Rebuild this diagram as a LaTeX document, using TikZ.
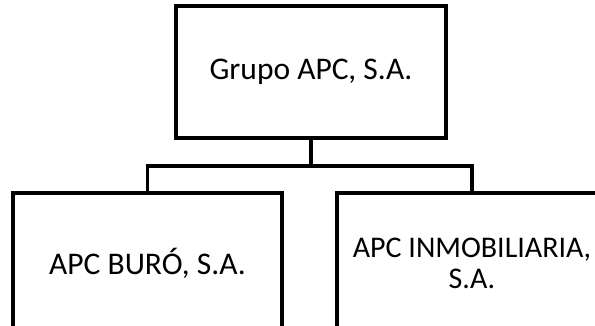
\documentclass[tikz,border=0pt]{standalone}
\usepackage{fontspec}
\setmainfont{Carlito}
\begin{document}
\begin{tikzpicture}[x=1pt,y=1pt,
  orgbox/.style={draw=black, line width=3.6pt, fill=white, inner sep=0pt, align=center,
    font=\fontsize{31.5}{31}\selectfont},
  link/.style={draw=black, line width=3.6pt}]
\useasboundingbox (0,0) rectangle (595,325);
\clip (0,0) rectangle (595,325);
\node[orgbox, minimum width=270pt, minimum height=132pt] (top) at (311,253) {Grupo APC, S.A.};
\node[orgbox, minimum width=269pt, minimum height=140pt] (left) at (147.5,62) {APC BURÓ, S.A.};
\node[orgbox, minimum width=270pt, minimum height=140pt, font=\fontsize{30}{31}\selectfont] (right) at (472,62) {APC INMOBILIARIA,\\S.A.};
\coordinate (j) at (top.south |- 0,159);
\draw[link] (top.south) -- (j);
\draw[link] (j) -| (left.north);
\draw[link] (j) -| (right.north);
\end{tikzpicture}
\end{document}
